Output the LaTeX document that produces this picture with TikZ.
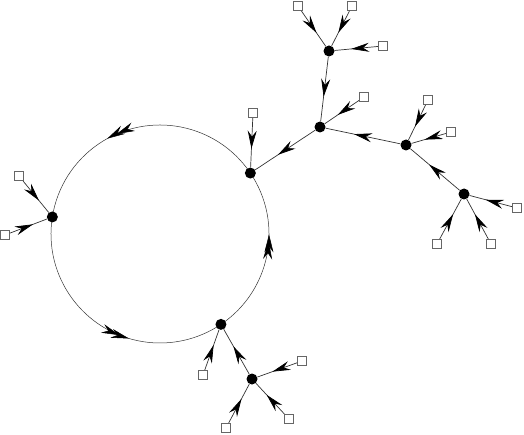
\documentclass[tikz,border=0pt]{standalone}
\usetikzlibrary{arrows.meta,decorations.markings,backgrounds,calc}
\tikzstyle{dotnode}=[circle, fill=black, inner sep=0pt, minimum size=11pt]
\tikzstyle{boxnode}=[rectangle, draw=black!60, fill=white, line width=0.6pt, inner sep=0pt, minimum size=9.5pt]
\tikzstyle{flow}=[color=black!80, line width=0.7pt, postaction={decorate},
  decoration={markings, mark=at position 0.62 with {\arrow{Stealth[length=18pt,width=9pt,inset=6pt,color=black]}}}]
\tikzstyle{ringflow}=[flow, line width=0.5pt,
  decoration={markings, mark=at position 0.58 with {\arrow{Stealth[length=18pt,width=9pt,inset=6pt,color=black]}}}]

\begin{document}
\begin{tikzpicture}[x=1pt,y=1pt]
\useasboundingbox (0,0) rectangle (524,434);
\coordinate (cc) at (160,200);
%Nodes
\node[dotnode] (A) at ($(cc)+(34:109)$) {};
\node[dotnode] (B) at ($(cc)+(171:109)$) {};
\node[dotnode] (C) at ($(cc)+(304:109)$) {};
\node[dotnode] (D) at (320,307) {};
\node[dotnode] (E) at (329,383) {};
\node[dotnode] (F) at (406,289) {};
\node[dotnode] (G) at (464,240) {};
\node[dotnode] (H) at (252,55) {};
\node[boxnode] (e1) at (298,428) {};
\node[boxnode] (e2) at (352,428) {};
\node[boxnode] (e3) at (383,388) {};
\node[boxnode] (a1) at (253,321) {};
\node[boxnode] (d1) at (364,337) {};
\node[boxnode] (f1) at (428,334) {};
\node[boxnode] (f2) at (451,302) {};
\node[boxnode] (g1) at (517,226) {};
\node[boxnode] (g2) at (437,190) {};
\node[boxnode] (g3) at (491,190) {};
\node[boxnode] (b1) at (19,258) {};
\node[boxnode] (b2) at (5,199) {};
\node[boxnode] (c1) at (203,59) {};
\node[boxnode] (h1) at (302,73) {};
\node[boxnode] (h2) at (289,15) {};
\node[boxnode] (h3) at (226,6) {};
%Ring
\begin{scope}[on background layer]
\draw[ringflow] (A.center) arc[start angle=34, end angle=171, radius=109];
\draw[ringflow] (B.center) arc[start angle=171, end angle=304, radius=109];
\draw[ringflow] (C.center) arc[start angle=304, end angle=394, radius=109];
\end{scope}
%Lines
\draw[flow] (e1) -- (E);
\draw[flow] (e2) -- (E);
\draw[flow] (e3) -- (E);
\draw[flow] (E) -- (D);
\draw[flow] (d1) -- (D);
\draw[flow] (F) -- (D);
\draw[flow] (D) -- (A);
\draw[flow] (a1) -- (A);
\draw[flow] (f1) -- (F);
\draw[flow] (f2) -- (F);
\draw[flow] (G) -- (F);
\draw[flow] (g1) -- (G);
\draw[flow] (g2) -- (G);
\draw[flow] (g3) -- (G);
\draw[flow] (b1) -- (B);
\draw[flow] (b2) -- (B);
\draw[flow] (c1) -- (C);
\draw[flow] (H) -- (C);
\draw[flow] (h1) -- (H);
\draw[flow] (h2) -- (H);
\draw[flow] (h3) -- (H);
\end{tikzpicture}
\end{document}
